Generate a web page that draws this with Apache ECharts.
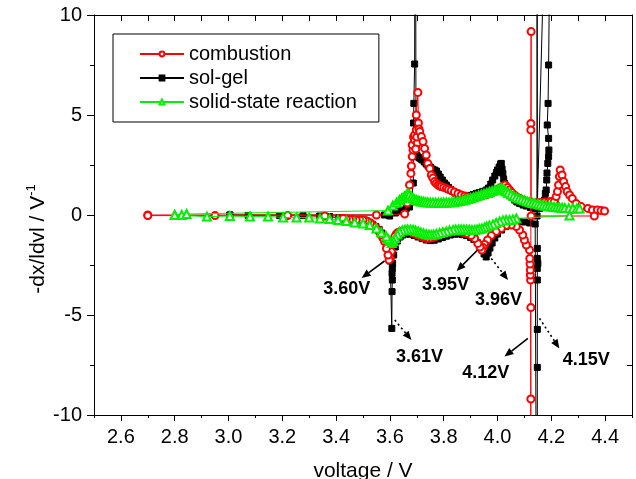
<!DOCTYPE html>
<html><head><meta charset="utf-8">
<script src="https://cdn.jsdelivr.net/npm/echarts@6/dist/echarts.min.js"></script>
<style>html,body{margin:0;padding:0;background:#fff;overflow:hidden}#main{width:636px;height:479px}</style>
</head><body><div id="main"></div>
<script>
// ---------- data (voltage [V], -dx/|dV| [1/V]) ----------
const seriesNames = ['combustion', 'sol-gel', 'solid-state reaction'];
const xTickLabels = [2.6, 2.8, 3.0, 3.2, 3.4, 3.6, 3.8, 4.0, 4.2, 4.4];
const xMinorTicks = [2.5, 2.7, 2.9, 3.1, 3.3, 3.5, 3.7, 3.9, 4.1, 4.3, 4.5];
const yTickLabels = [-10, -5, 0, 5, 10];

const combustionCharge = [
 [2.70,0.0],[3.55,0.0],[3.655,0.05],[3.665,0.6],[3.673,1.5],[3.678,2.08],[3.68,2.45],[3.683,2.92],[3.686,3.25],
 [3.683,3.5],[3.688,3.9],[3.692,3.75],[3.692,4.0],[3.698,4.25],[3.698,5.0],[3.704,6.13],[3.706,4.6],[3.702,3.6],
 [3.696,3.3],[3.70,3.9],[3.708,4.3],[3.711,4.17],[3.717,3.92],[3.723,3.67],[3.729,3.33],[3.735,3.0],[3.741,2.58],
 [3.748,2.33],[3.754,2.0],[3.76,1.85],[3.766,1.67],[3.772,1.58],[3.779,1.5],[3.785,1.45],[3.791,1.42],[3.80,1.38],
 [3.81,1.33],[3.818,1.28],[3.828,1.22],[3.84,1.15],[3.853,1.08],[3.865,1.0],[3.878,0.95],[3.887,0.9],[3.896,0.85],
 [3.91,0.86],[3.92,0.88],[3.933,0.92],[3.945,0.97],[3.96,1.02],[3.977,1.08],[3.99,1.18],[4.0,1.27],[4.008,1.35],
 [4.018,1.43],[4.029,1.5],[4.037,1.38],[4.045,1.25],[4.053,1.12],[4.063,1.0],[4.072,0.9],[4.082,0.83],[4.095,0.75],
 [4.107,0.68],[4.12,0.62],[4.13,0.6],[4.145,0.62],[4.16,0.63],[4.175,0.65],[4.19,0.66],[4.2,0.67],[4.212,0.67],
 [4.218,0.92],[4.223,1.17],[4.227,1.5],[4.23,1.92],[4.233,2.25],[4.24,2.0],[4.246,1.67],[4.253,1.42],[4.259,1.17],
 [4.268,1.0],[4.278,0.83],[4.292,0.58],[4.311,0.42],[4.336,0.33],[4.353,0.25],[4.371,0.25],[4.385,0.22],[4.398,0.2]
];
const combustionDischarge = [
 [4.36,-0.05],[4.125,-0.05],[4.125,9.17],[4.124,4.58],[4.124,4.25],[4.124,-4.63],[4.124,-9.2],[4.124,-14],
 [4.123,-3.25],[4.122,-3.0],[4.122,-2.75],[4.121,-2.45],[4.12,-2.17],[4.119,-1.75],[4.107,-1.5],[4.10,-1.25],
 [4.094,-1.0],[4.082,-0.75],[4.07,-0.58],[4.051,-0.5],[4.032,-0.53],[4.014,-0.67],[3.995,-0.83],[3.977,-1.03],
 [3.963,-1.25],[3.952,-1.47],[3.946,-1.62],[3.942,-1.75],[3.935,-1.6],[3.927,-1.42],[3.915,-1.17],[3.902,-1.03],
 [3.884,-0.92],[3.87,-0.87],[3.859,-0.83],[3.846,-0.82],[3.834,-0.83],[3.822,-0.85],[3.81,-0.87],[3.797,-0.93],
 [3.785,-1.0],[3.772,-1.07],[3.76,-1.13],[3.748,-1.16],[3.735,-1.17],[3.726,-1.13],[3.717,-1.08],[3.708,-1.02],
 [3.698,-0.97],[3.686,-0.9],[3.673,-0.83],[3.661,-0.8],[3.649,-0.8],[3.639,-0.83],[3.63,-0.87],[3.624,-0.95],
 [3.618,-1.08],[3.611,-1.42],[3.605,-1.83],[3.602,-2.17],[3.597,-2.25],[3.593,-2.0],[3.587,-1.67],[3.58,-1.33],
 [3.574,-1.15],[3.568,-1.0],[3.562,-0.87],[3.556,-0.75],[3.546,-0.6],[3.537,-0.5],[3.528,-0.4],[3.519,-0.33],
 [3.51,-0.28],[3.5,-0.25],[3.488,-0.25],[3.475,-0.25],[3.462,-0.23],[3.45,-0.22],[3.438,-0.2],[3.426,-0.17],
 [3.358,-0.05],[3.22,-0.03],[2.95,-0.03],[2.70,-0.03]
];
const solgelCharge = [
 [3.005,0.0],[3.58,0.0],[3.599,-0.05],[3.62,0.1],[3.636,0.2],[3.649,0.25],[3.661,0.33],[3.673,0.4],[3.68,0.67],
 [3.685,0.75],[3.687,1.6],[3.688,3.0],[3.688,4.6],[3.689,5.58],[3.692,7.55],[3.694,30],[3.697,3.4],[3.70,3.0],
 [3.705,2.9],[3.71,2.85],[3.715,2.8],[3.72,2.75],[3.728,2.65],[3.735,2.55],[3.742,2.45],[3.75,2.4],[3.758,2.3],
 [3.766,2.25],[3.773,2.2],[3.78,2.05],[3.787,1.9],[3.795,1.75],[3.803,1.6],[3.81,1.5],[3.818,1.38],[3.826,1.28],
 [3.834,1.18],[3.842,1.1],[3.85,1.02],[3.86,0.96],[3.87,0.92],[3.88,0.92],[3.89,0.95],[3.9,0.98],[3.91,1.02],
 [3.921,1.08],[3.932,1.12],[3.945,1.18],[3.958,1.25],[3.967,1.35],[3.975,1.55],[3.982,1.75],[3.99,1.95],
 [3.996,2.12],[4.0,2.25],[4.006,2.4],[4.011,2.55],[4.014,2.58],[4.017,2.3],[4.02,2.08],[4.023,1.8],[4.026,1.58],
 [4.032,1.25],[4.038,1.1],[4.045,1.0],[4.054,0.87],[4.063,0.75],[4.072,0.65],[4.082,0.58],[4.095,0.5],[4.107,0.45],
 [4.122,0.38],[4.138,0.33],[4.148,0.32],[4.156,0.33],[4.163,0.4],[4.169,0.5],[4.175,0.75],[4.178,1.08],[4.181,1.25],
 [4.183,1.75],[4.184,2.1],[4.187,2.58],[4.19,2.92],[4.191,3.25],[4.19,3.83],[4.185,4.5],[4.188,5.58],[4.19,7.5],
 [4.207,30]
];
const solgelDischarge = [
 [4.147,-0.05],[4.147,30],[4.148,-1.67],[4.148,-2.17],[4.15,-2.42],[4.148,-2.67],[4.148,-3.25],[4.148,-5.72],
 [4.148,-7.62],[4.149,-30],[4.14,-0.45],[4.12,-0.4],[4.10,-0.35],[4.08,-0.33],[4.06,-0.36],[4.045,-0.45],
 [4.03,-0.58],[4.015,-0.75],[4.0,-0.95],[3.99,-1.15],[3.98,-1.4],[3.972,-1.65],[3.965,-1.9],[3.958,-2.1],
 [3.95,-1.95],[3.943,-1.75],[3.935,-1.55],[3.925,-1.38],[3.912,-1.22],[3.9,-1.12],[3.885,-1.03],[3.87,-0.98],
 [3.855,-0.95],[3.84,-0.96],[3.825,-1.0],[3.81,-1.06],[3.795,-1.13],[3.78,-1.2],[3.765,-1.26],[3.75,-1.28],
 [3.735,-1.25],[3.72,-1.18],[3.705,-1.1],[3.69,-1.02],[3.675,-0.96],[3.66,-0.95],[3.648,-1.0],[3.638,-1.1],
 [3.628,-1.3],[3.62,-1.6],[3.614,-2.0],[3.61,-2.42],[3.609,-2.67],[3.608,-2.92],[3.609,-3.25],[3.608,-3.83],
 [3.607,-5.67],[3.601,-2.3],[3.595,-1.8],[3.588,-1.45],[3.58,-1.15],[3.57,-0.9],[3.56,-0.72],[3.548,-0.58],
 [3.535,-0.47],[3.52,-0.38],[3.505,-0.32],[3.49,-0.28],[3.47,-0.25],[3.45,-0.22],[3.43,-0.18],[3.41,-0.14],
 [3.376,-0.08],[3.339,-0.05],[3.277,-0.03],[3.19,-0.03],[3.073,-0.02],[3.005,0.0]
];
const solidCharge = [
 [2.80,0.0],[2.826,0.0],[2.844,0.05],[3.593,0.22],[3.611,0.47],[3.625,0.62],[3.636,0.75],[3.645,0.85],[3.654,0.92],
 [3.661,1.0],[3.667,1.08],[3.673,1.02],[3.68,0.92],[3.686,0.83],[3.692,0.78],[3.698,0.75],[3.705,0.71],[3.711,0.69],
 [3.717,0.67],[3.725,0.66],[3.733,0.64],[3.741,0.63],[3.75,0.62],[3.76,0.62],[3.77,0.61],[3.78,0.61],[3.79,0.61],
 [3.80,0.62],[3.81,0.62],[3.82,0.63],[3.83,0.64],[3.84,0.66],[3.85,0.68],[3.86,0.7],[3.87,0.73],[3.88,0.76],
 [3.89,0.8],[3.90,0.84],[3.91,0.88],[3.92,0.92],[3.93,0.97],[3.94,1.02],[3.95,1.06],[3.96,1.1],[3.97,1.15],
 [3.98,1.2],[3.99,1.24],[4.0,1.28],[4.008,1.31],[4.014,1.33],[4.02,1.3],[4.026,1.24],[4.032,1.17],[4.04,1.1],
 [4.05,1.02],[4.06,0.95],[4.07,0.88],[4.08,0.82],[4.09,0.77],[4.1,0.72],[4.11,0.68],[4.12,0.64],[4.13,0.6],
 [4.14,0.57],[4.15,0.54],[4.16,0.51],[4.17,0.48],[4.18,0.46],[4.19,0.44],[4.2,0.42],[4.21,0.4],[4.22,0.39],
 [4.23,0.37],[4.24,0.36],[4.25,0.35],[4.265,0.34],[4.28,0.33],[4.295,0.33],[4.305,0.33]
];
const solidDischarge = [
 [4.268,-0.03],[4.07,-0.17],[4.057,-0.22],[4.045,-0.25],[4.032,-0.25],[4.02,-0.27],[4.008,-0.32],[3.995,-0.4],
 [3.983,-0.47],[3.97,-0.53],[3.96,-0.58],[3.952,-0.63],[3.942,-0.67],[3.933,-0.7],[3.924,-0.73],[3.915,-0.75],
 [3.905,-0.75],[3.895,-0.74],[3.885,-0.73],[3.875,-0.72],[3.865,-0.72],[3.855,-0.72],[3.845,-0.73],[3.835,-0.75],
 [3.822,-0.78],[3.81,-0.82],[3.797,-0.86],[3.785,-0.9],[3.773,-0.95],[3.763,-0.98],[3.754,-1.0],[3.745,-0.99],
 [3.735,-0.96],[3.725,-0.92],[3.715,-0.87],[3.705,-0.82],[3.695,-0.77],[3.686,-0.74],[3.676,-0.72],[3.666,-0.72],
 [3.656,-0.74],[3.646,-0.78],[3.636,-0.85],[3.628,-0.98],[3.62,-1.15],[3.613,-1.3],[3.607,-1.4],[3.6,-1.3],
 [3.593,-1.2],[3.587,-1.08],[3.568,-0.88],[3.55,-0.67],[3.525,-0.5],[3.50,-0.42],[3.469,-0.37],[3.438,-0.3],
 [3.407,-0.25],[3.376,-0.2],[3.34,-0.17],[3.30,-0.13],[3.253,-0.13],[3.203,-0.12],[3.147,-0.08],[3.08,-0.08],
 [3.005,-0.05],[2.92,-0.08],[2.80,0.0]
];

// annotations: label, label position, arrow tail, arrow head (data coords), dashed?
const annotations = [
 {text:'3.60V', at:[3.44,-3.7],  from:[3.58,-2.3],  to:[3.495,-3.15], dash:false},
 {text:'3.95V', at:[3.807,-3.5], from:[3.926,-1.75],to:[3.848,-2.8],  dash:false},
 {text:'3.96V', at:[4.004,-4.25],from:[3.977,-2.17],to:[4.039,-3.25], dash:true},
 {text:'3.61V', at:[3.71,-7.1],  from:[3.618,-5.25],to:[3.68,-6.25],  dash:true},
 {text:'4.12V', at:[3.956,-7.9], from:[4.113,-6.17],to:[4.026,-7.08], dash:false},
 {text:'4.15V', at:[4.33,-7.25], from:[4.156,-5.17],to:[4.23,-6.67],  dash:true}
];

// ---------- chart ----------
const FONT = 'Liberation Sans, Arial, Helvetica, sans-serif';
const chart = echarts.init(document.getElementById('main'), null, {renderer:'canvas', width:636, height:479});
const red = '#ff0000', blk = '#000000', grn = '#00f000';

function lineSeries(name, data, color, symbol, size, z) {
  return {
    name, type:'line', data, symbol, symbolSize:size, showAllSymbol:true, z,
    lineStyle:{color, width:1}, itemStyle:{color, borderColor:color, borderWidth:1},
    emphasis:{disabled:true}, animation:false, clip:true
  };
}

const option = {
  animation:false,
  grid:{left:94, right:4, top:15, bottom:64, containLabel:false, outerBoundsMode:'none'},
  legend:{
    orient:'vertical', left:113, top:34, padding:[10,22,10,26],
    itemWidth:44, itemHeight:6, itemGap:4,
    borderColor:'#000', borderWidth:1, selectedMode:false,
    textStyle:{fontSize:20, color:'#000', fontFamily:FONT},
    data:seriesNames
  },
  xAxis:[
    {type:'value', position:'bottom', min:2.5, max:4.5,
     axisLine:{show:true, onZero:false, lineStyle:{color:'#000', width:1}},
     axisTick:{show:true, inside:false, length:6, lineStyle:{color:'#000'}, customValues:xTickLabels},
     axisLabel:{show:true, margin:12, fontSize:20, color:'#000', fontFamily:FONT, customValues:xTickLabels,
                formatter:v=>v.toFixed(1)},
     splitLine:{show:false},
     name:'voltage / V', nameLocation:'middle', nameGap:46,
     nameTextStyle:{fontSize:21, color:'#000', fontFamily:FONT}},
    {type:'value', position:'bottom', min:2.5, max:4.5,
     axisLine:{show:false, onZero:false},
     axisTick:{show:true, inside:false, length:3, lineStyle:{color:'#000'}, customValues:xMinorTicks},
     axisLabel:{show:false}, splitLine:{show:false}},
    {type:'value', position:'top', min:2.5, max:4.5, interval:0.1,
     axisLine:{show:true, onZero:false, lineStyle:{color:'#000', width:1}},
     axisTick:{show:true, inside:true, length:6, lineStyle:{color:'#000'}},
     axisLabel:{show:false}, splitLine:{show:false}}
  ],
  yAxis:[
    {type:'value', position:'left', min:-10, max:10, interval:5,
     axisLine:{show:true, onZero:false, lineStyle:{color:'#000', width:1}},
     axisTick:{show:true, inside:false, length:7, lineStyle:{color:'#000'}},
     minorTick:{show:true, splitNumber:2, length:4, lineStyle:{color:'#000'}},
     axisLabel:{show:true, margin:12, fontSize:20, color:'#000', fontFamily:FONT},
     splitLine:{show:false}, minorSplitLine:{show:false}},
    {type:'value', position:'right', min:-10, max:10, interval:2.5,
     axisLine:{show:true, onZero:false, lineStyle:{color:'#000', width:1}},
     axisTick:{show:true, inside:true, length:5, lineStyle:{color:'#000'}},
     axisLabel:{show:false}, splitLine:{show:false}}
  ],
  series:[
    lineSeries(seriesNames[0], combustionCharge.concat(combustionDischarge), red, 'emptyCircle', 7, 3),
    lineSeries(seriesNames[1], solgelCharge.concat(solgelDischarge), blk, 'rect', 6, 2),
    lineSeries(seriesNames[2], solidCharge.concat(solidDischarge), grn, 'emptyTriangle', 8, 4)
  ]
};
chart.setOption(option);

// annotations & rotated y-axis title as graphic elements positioned through the axes
const toPx = p => chart.convertToPixel({xAxisIndex:0, yAxisIndex:0}, p);
const graphics = [];
annotations.forEach(a => {
  const t = toPx(a.at), p1 = toPx(a.from), p2 = toPx(a.to);
  const dx = p2[0]-p1[0], dy = p2[1]-p1[1], L = Math.hypot(dx, dy);
  const ux = dx/L, uy = dy/L, hl = 9, hw = 3.8;
  const bx = p2[0]-ux*hl, by = p2[1]-uy*hl;
  graphics.push({type:'line', shape:{x1:p1[0], y1:p1[1], x2:bx, y2:by},
    style:{stroke:'#000', lineWidth:1.6, lineDash:a.dash ? [2,3] : null}, z:10});
  graphics.push({type:'polygon', shape:{points:[[p2[0],p2[1]],[bx-uy*hw, by+ux*hw],[bx+uy*hw, by-ux*hw]]},
    style:{fill:'#000'}, z:10});
  graphics.push({type:'text', x:t[0], y:t[1], z:10,
    style:{text:a.text, fontSize:18, fontWeight:'bold', fontFamily:FONT, fill:'#000', align:'center', verticalAlign:'middle'}});
});
graphics.push({type:'text', x:38, y:239, rotation:Math.PI/2, z:10,
  style:{text:'{a|-dx/ldvl / V}{b|-1}', align:'center', verticalAlign:'middle',
    rich:{a:{fontSize:21, fontFamily:FONT, fill:'#000', lineHeight:26},
          b:{fontSize:13, fontFamily:FONT, fill:'#000', lineHeight:26, verticalAlign:'top', padding:[0,0,12,0]}}}});
chart.setOption({graphic:graphics});
</script></body></html>
